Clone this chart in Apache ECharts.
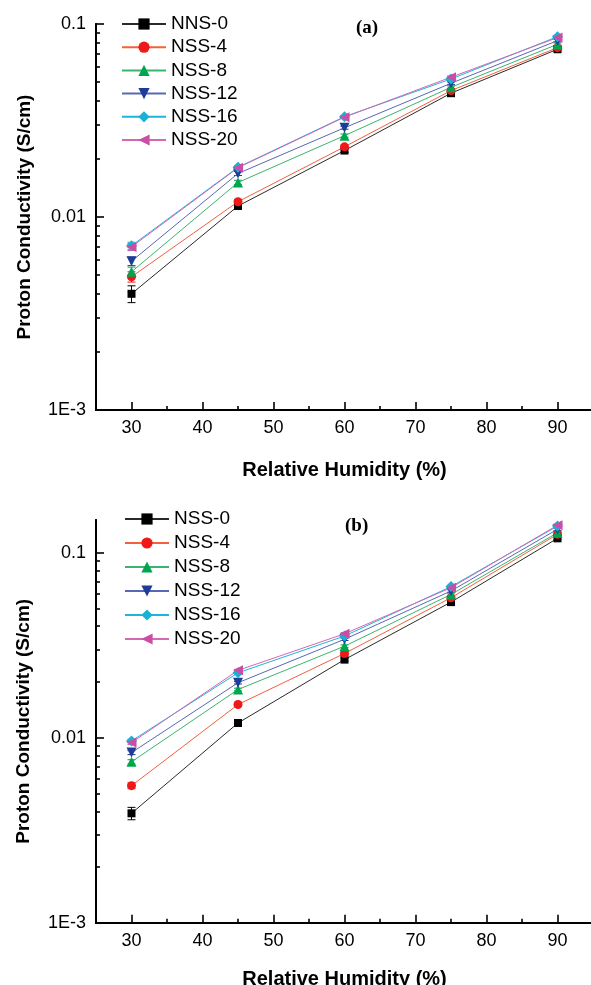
<!DOCTYPE html>
<html>
<head>
<meta charset="utf-8">
<script src="https://cdn.jsdelivr.net/npm/echarts@6/dist/echarts.min.js"></script>
<style>
  html, body { margin: 0; padding: 0; background: #ffffff; }
  #main { width: 591px; height: 985px; }
</style>
</head>
<body>
<div id="main"></div>
<script>
// Relative humidity (%) at which conductivity was measured
const humidity = [30, 45, 60, 75, 90];

// Series names for the two panels
const namesA = ['NNS-0', 'NSS-4', 'NSS-8', 'NSS-12', 'NSS-16', 'NSS-20'];
const namesB = ['NSS-0', 'NSS-4', 'NSS-8', 'NSS-12', 'NSS-16', 'NSS-20'];

// Panel (a): proton conductivity (S/cm)
const a0  = [0.0040, 0.0114, 0.0221, 0.0438, 0.0740];
const a4  = [0.0049, 0.0120, 0.0231, 0.0452, 0.0754];
const a8  = [0.0052, 0.0151, 0.0264, 0.0470, 0.0785];
const a12 = [0.0059, 0.0168, 0.0290, 0.0493, 0.0820];
const a16 = [0.0071, 0.0181, 0.0331, 0.0519, 0.0860];
const a20 = [0.0070, 0.0180, 0.0329, 0.0530, 0.0850];

// Panel (a): standard deviations (S/cm)
const aErr0  = [0.0004, 0.0003, 0.0005, 0.0008, 0.0012];
const aErr4  = [0.0003, 0.0003, 0.0005, 0.0008, 0.0012];
const aErr8  = [0.0003, 0.0004, 0.0005, 0.0008, 0.0012];
const aErr12 = [0.0003, 0.0004, 0.0005, 0.0008, 0.0012];
const aErr16 = [0.0003, 0.0004, 0.0005, 0.0008, 0.0012];
const aErr20 = [0.0003, 0.0004, 0.0005, 0.0008, 0.0012];

// Panel (b): proton conductivity (S/cm)
const b0  = [0.0039, 0.0120, 0.0264, 0.0540, 0.1194];
const b4  = [0.0055, 0.0151, 0.0285, 0.0570, 0.1256];
const b8  = [0.0074, 0.0182, 0.0312, 0.0594, 0.1280];
const b12 = [0.0083, 0.0198, 0.0340, 0.0620, 0.1337];
const b16 = [0.0096, 0.0224, 0.0354, 0.0655, 0.1390];
const b20 = [0.0094, 0.0231, 0.0364, 0.0646, 0.1406];

// Panel (b): standard deviations (S/cm)
const bErr0  = [0.0003, 0.0003, 0.0005, 0.0010, 0.0020];
const bErr4  = [0.0002, 0.0003, 0.0005, 0.0010, 0.0020];
const bErr8  = [0.0002, 0.0003, 0.0005, 0.0010, 0.0020];
const bErr12 = [0.0002, 0.0003, 0.0005, 0.0010, 0.0020];
const bErr16 = [0.0002, 0.0003, 0.0005, 0.0010, 0.0020];
const bErr20 = [0.0002, 0.0003, 0.0005, 0.0010, 0.0020];

// Axis ticks
const xTicks = [30, 40, 50, 60, 70, 80, 90];
const xMinorTicks = [35, 45, 55, 65, 75, 85];
const yTickValues = [0.001, 0.01, 0.1];
const yTickLabels = ['1E-3', '0.01', '0.1'];
const yMinorTicks = [0.002, 0.003, 0.004, 0.005, 0.006, 0.007, 0.008, 0.009,
                     0.02, 0.03, 0.04, 0.05, 0.06, 0.07, 0.08, 0.09];

// Marker and line styles, one per composition
const looks = [
  { symbol: 'rect',     size: 8,  rotate: 0,   fill: '#000000', line: '#2a2a2a' },
  { symbol: 'circle',   size: 9,  rotate: 0,   fill: '#F01818', line: '#F2603F' },
  { symbol: 'triangle', size: 10, rotate: 0,   fill: '#00A64F', line: '#3DB36E' },
  { symbol: 'triangle', size: 10, rotate: 180, fill: '#1E3C9A', line: '#5868B4' },
  { symbol: 'diamond',  size: 11, rotate: 0,   fill: '#17B2D6', line: '#1FB5DA' },
  { symbol: 'triangle', size: 10, rotate: 90,  fill: '#CC4DA6', line: '#D468B4' }
];

const FONT = 'Liberation Sans, Arial, sans-serif';
const log10 = Math.log10;

function errorBars(name, xIdx, yIdx, vals, errs, color) {
  return {
    type: 'custom',
    name: 'err:' + name,
    xAxisIndex: xIdx,
    yAxisIndex: yIdx,
    silent: true,
    z: 2,
    encode: { x: 0, y: 1 },
    data: humidity.map((h, i) => [h, vals[i], errs[i]]),
    renderItem: function (params, api) {
      const x = api.value(0), v = api.value(1), e = api.value(2);
      const hi = api.coord([x, v + e]);
      const lo = api.coord([x, v - e]);
      const st = { stroke: color, lineWidth: 1 };
      return {
        type: 'group',
        children: [
          { type: 'line', shape: { x1: hi[0], y1: hi[1], x2: lo[0], y2: lo[1] }, style: st },
          { type: 'line', shape: { x1: hi[0] - 4, y1: hi[1], x2: hi[0] + 4, y2: hi[1] }, style: st },
          { type: 'line', shape: { x1: lo[0] - 4, y1: lo[1], x2: lo[0] + 4, y2: lo[1] }, style: st }
        ]
      };
    }
  };
}

function panelSeries(names, valueSets, errSets, xIdx, yIdx) {
  const out = [];
  names.forEach((name, k) => {
    const lk = looks[k];
    out.push(errorBars(name, xIdx, yIdx, valueSets[k], errSets[k], lk.fill));
  });
  names.forEach((name, k) => {
    const lk = looks[k];
    out.push({
      type: 'line',
      name: name,
      xAxisIndex: xIdx,
      yAxisIndex: yIdx,
      data: humidity.map((h, i) => [h, valueSets[k][i]]),
      symbol: lk.symbol,
      symbolSize: lk.size,
      symbolRotate: lk.rotate,
      showAllSymbol: true,
      itemStyle: { color: lk.fill },
      lineStyle: { color: lk.line, width: 1 },
      emphasis: { disabled: true },
      animation: false,
      z: 3
    });
  });
  return out;
}

// Bottom axis carrying the labelled ticks every 10 %
function mainX(gridIndex, nameGap) {
  return {
    type: 'value', gridIndex: gridIndex, position: 'bottom', min: 25, max: 95,
    axisLine: { show: true, onZero: false, lineStyle: { color: '#000', width: 2 } },
    axisTick: { show: true, inside: true, length: 8, customValues: xTicks,
                lineStyle: { color: '#000', width: 1.6 } },
    axisLabel: { show: true, customValues: xTicks, margin: 9, fontSize: 18,
                 fontFamily: FONT, color: '#000' },
    splitLine: { show: false },
    name: 'Relative Humidity (%)', nameLocation: 'middle', nameGap: nameGap,
    nameTextStyle: { fontSize: 20, fontWeight: 'bold', fontFamily: FONT, color: '#000' }
  };
}

// Same axis again, only for the short ticks halfway between labels
function minorX(gridIndex) {
  return {
    type: 'value', gridIndex: gridIndex, position: 'bottom', min: 25, max: 95,
    axisLine: { show: true, onZero: false, lineStyle: { color: '#000', width: 2 } },
    axisTick: { show: true, inside: true, length: 4, customValues: xMinorTicks,
                lineStyle: { color: '#000', width: 1.6 } },
    axisLabel: { show: false },
    splitLine: { show: false }
  };
}

// Logarithmic axis the series are plotted on
function dataY(gridIndex, maxVal) {
  return { type: 'log', logBase: 10, gridIndex: gridIndex, min: yTickValues[0], max: maxVal, show: false,
           splitLine: { show: false } };
}

// Decade ticks and labels, drawn in log10 units over the same range
function majorY(gridIndex, maxVal, nameGap) {
  const ticks = yTickValues.map(v => log10(v));
  return {
    type: 'value', gridIndex: gridIndex, position: 'left',
    min: log10(yTickValues[0]), max: log10(maxVal),
    axisLine: { show: true, onZero: false, lineStyle: { color: '#000', width: 2 } },
    axisTick: { show: true, inside: true, length: 8, customValues: ticks,
                lineStyle: { color: '#000', width: 1.6 } },
    axisLabel: {
      show: true, customValues: ticks, margin: 10, fontSize: 18, fontFamily: FONT, color: '#000',
      formatter: function (v) {
        const i = ticks.findIndex(t => Math.abs(t - v) < 1e-9);
        return i >= 0 ? yTickLabels[i] : '';
      }
    },
    splitLine: { show: false },
    name: 'Proton Conductivity (S/cm)', nameLocation: 'middle', nameRotate: 90, nameGap: nameGap,
    nameTextStyle: { fontSize: 19, fontWeight: 'bold', fontFamily: FONT, color: '#000' }
  };
}

// Short ticks at 2..9 within each decade
function minorY(gridIndex, maxVal) {
  return {
    type: 'value', gridIndex: gridIndex, position: 'left',
    min: log10(yTickValues[0]), max: log10(maxVal),
    axisLine: { show: true, onZero: false, lineStyle: { color: '#000', width: 2 } },
    axisTick: { show: true, inside: true, length: 4,
                customValues: yMinorTicks.filter(v => v <= maxVal).map(v => log10(v)),
                lineStyle: { color: '#000', width: 1.6 } },
    axisLabel: { show: false },
    splitLine: { show: false }
  };
}

const maxA = 0.1;
const maxB = 0.15;

const legendText = { fontFamily: FONT, fontSize: 19, color: '#000', lineHeight: 20 };

const option = {
  backgroundColor: '#ffffff',
  animation: false,
  grid: [
    { left: 96, top: 24, width: 497, height: 386, outerBoundsMode: 'none', containLabel: false },
    { left: 96, top: 520, width: 497, height: 402.7, outerBoundsMode: 'none', containLabel: false }
  ],
  xAxis: [mainX(0, 50), minorX(0), mainX(1, 47), minorX(1)],
  yAxis: [dataY(0, maxA), majorY(0, maxA, 62), minorY(0, maxA),
          dataY(1, maxB), majorY(1, maxB, 63), minorY(1, maxB)],
  legend: [
    { data: namesA, orient: 'vertical', left: 121, top: 14, padding: 0,
      itemWidth: 44, itemHeight: 14, itemGap: 3.2, selectedMode: false, textStyle: legendText },
    { data: namesB, orient: 'vertical', left: 124, top: 509, padding: 0,
      itemWidth: 44, itemHeight: 14, itemGap: 4, selectedMode: false, textStyle: legendText }
  ],
  graphic: [
    { type: 'text', left: 356, top: 19,
      style: { text: '(a)', font: 'bold 19px "Liberation Serif", "Times New Roman", serif', fill: '#000' } },
    { type: 'text', left: 345, top: 517,
      style: { text: '(b)', font: 'bold 19px "Liberation Serif", "Times New Roman", serif', fill: '#000' } }
  ],
  series: [].concat(
    panelSeries(namesA, [a0, a4, a8, a12, a16, a20],
                [aErr0, aErr4, aErr8, aErr12, aErr16, aErr20], 0, 0),
    panelSeries(namesB, [b0, b4, b8, b12, b16, b20],
                [bErr0, bErr4, bErr8, bErr12, bErr16, bErr20], 2, 3)
  )
};

const chart = echarts.init(document.getElementById('main'), null, { renderer: 'canvas' });
chart.setOption(option);
</script>
</body>
</html>
